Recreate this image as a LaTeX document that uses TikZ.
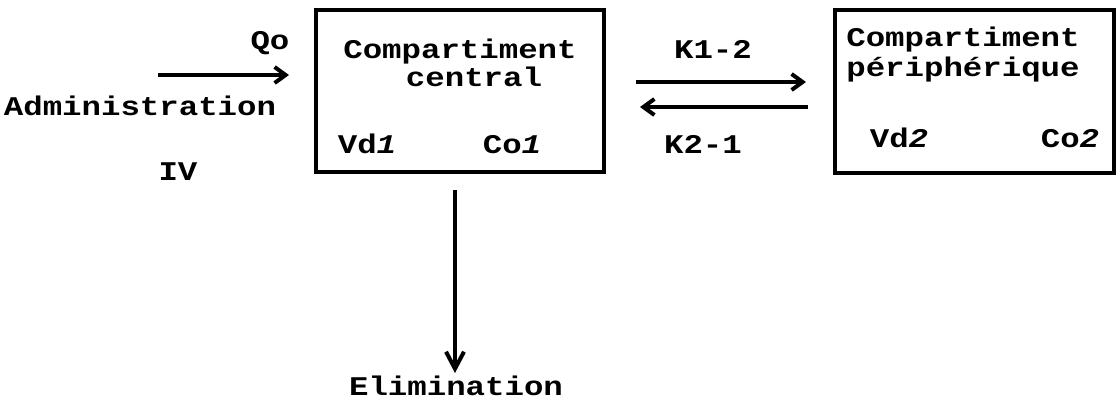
\documentclass[tikz,border=0pt]{standalone}
\usepackage{fontspec}
\setmainfont{Liberation Mono}[FakeStretch=1.2]
\usetikzlibrary{arrows.meta}
\tikzset{
  lbl/.style={font=\fontsize{13.5pt}{16pt}\selectfont\bfseries, inner sep=0pt, anchor=base},
  boxnode/.style={draw, line width=1.6pt, rectangle, inner sep=0pt},
  arr/.style={line width=1.6pt, -{Straight Barb[length=5.5pt, width=8pt, line width=2pt]}},
  arrdown/.style={line width=1.6pt, -{Straight Barb[length=8.5pt, width=9pt, line width=2pt]}}
}
\begin{document}
\begin{tikzpicture}[x=0.5pt, y=-0.5pt]
\useasboundingbox (0,0) rectangle (1116,409);
% boxes
\node[boxnode, minimum width=144pt, minimum height=81pt] (central) at (460,91) {};
\node[boxnode, minimum width=139.5pt, minimum height=81.5pt] (periph) at (974.5,91.5) {};
% labels
\node[lbl] (qo) at (270,49) {Qo};
\node[lbl] (admin) at (140,115) {Administration};
\node[lbl] (iv) at (178,180) {IV};
\node[lbl] (c1a) at (460,58) {Compartiment};
\node[lbl] (c1b) at (474,86) {central};
\node[lbl] (vd1) at (367,153) {Vd\textit{1}};
\node[lbl] (co1) at (512,153) {Co\textit{1}};
\node[lbl] (k12) at (713,58) {K1-2};
\node[lbl] (k21) at (703,153) {K2-1};
\node[lbl] (c2a) at (963,46) {Compartiment};
\node[lbl] (c2b) at (963,76) {périphérique};
\node[lbl] (vd2) at (899,147) {Vd\textit{2}};
\node[lbl] (co2) at (1070,147) {Co\textit{2}};
\node[lbl] (elim) at (456,395) {Elimination};
% connector end points
\coordinate (qostart) at (158,75);
\coordinate (qoend) at (289,75);
\coordinate (k12s) at (636,82);
\coordinate (k12e) at (806,82);
\coordinate (k21s) at (808,107);
\coordinate (k21e) at (640,107);
\coordinate (elimstart) at (455,190);
\coordinate (elimend) at (455,373);
% connectors
\draw[arr] (qostart) -- (qoend);
\draw[arr] (k12s) -- (k12e);
\draw[arr] (k21s) -- (k21e);
\draw[arrdown] (elimstart) -- (elimend);
\end{tikzpicture}
\end{document}
